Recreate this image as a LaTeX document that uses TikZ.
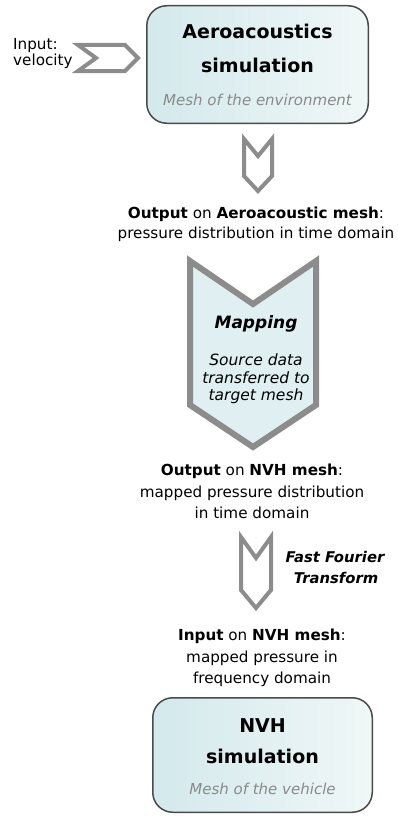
\documentclass[tikz,border=0pt]{standalone}
\usepackage{fontspec}
\setmainfont{DejaVu Sans}
\definecolor{boxline}{HTML}{4A4A4A}
\definecolor{boxL}{HTML}{D3E9EC}
\definecolor{boxR}{HTML}{F0F7F7}
\definecolor{chevgray}{HTML}{8C8C8C}
\definecolor{subgray}{HTML}{8A8A8A}
\definecolor{mapfill}{HTML}{DFEFF2}
\begin{document}
\begin{tikzpicture}[x=1pt,y=-1pt,
  box/.style={draw=boxline, line width=1.5pt, rounded corners=20pt, left color=boxL, right color=boxR, inner sep=0pt},
  chev/.style={draw=chevgray, line width=4pt, line join=miter, fill=white},
  txt/.style={anchor=base, inner sep=0pt, font=\fontsize{15.2}{18}\selectfont, text=black},
  ttl/.style={anchor=base, inner sep=0pt, font=\fontsize{19}{22}\selectfont\bfseries},
  sub/.style={anchor=base, inner sep=0pt, font=\fontsize{15}{17}\selectfont\itshape, text=subgray},
  bi/.style={anchor=base, inner sep=0pt, font=\fontsize{14.8}{17}\selectfont\bfseries\itshape},
  it/.style={anchor=base, inner sep=0pt, font=\fontsize{15.5}{18}\selectfont\itshape}]
\useasboundingbox (0,0) rectangle (397,816);

% top box
\node[box, minimum width=221.5pt, minimum height=117.5pt] (aero) at (257.5,64.5) {};
\node[ttl] (aeroT1) at (257.5,38) {Aeroacoustics};
\node[ttl] (aeroT2) at (257.5,73) {simulation};
\node[sub] (aeroT3) at (257.5,105) {Mesh of the environment};

% input
\node[txt, anchor=base west] (in1) at (13,50) {Input:};
\node[txt, anchor=base west] (in2) at (13,66) {velocity};
\draw[chev] (78,45) -- (125,45) -- (138,58) -- (125,71) -- (78,71) -- (96,58) -- cycle;

% chevron 1
\draw[chev] (244,139) -- (258,156) -- (272,139) -- (272,176) -- (258,191) -- (244,176) -- cycle;

\node[txt] (out1a) at (256,218) {\textbf{Output} on \textbf{Aeroacoustic mesh}:};
\node[txt] (out1b) at (256,238) {pressure distribution in time domain};

% mapping chevron
\draw[chev, line width=6pt, fill=mapfill] (190,261) -- (253,304) -- (316,261) -- (316,405) -- (253,447) -- (190,405) -- cycle;
\node[bi, font=\fontsize{17}{20}\selectfont\bfseries\itshape] (map1) at (256,328) {Mapping};
\node[it] (map2) at (256,365) {Source data};
\node[it] (map3) at (256,383) {transferred to};
\node[it] (map4) at (256,400) {target mesh};

\node[txt] (out2a) at (252,475) {\textbf{Output} on \textbf{NVH mesh}:};
\node[txt] (out2b) at (252,497) {mapped pressure distribution};
\node[txt] (out2c) at (252,518) {in time domain};

% chevron 3
\draw[chev] (241,537) -- (256,558) -- (271,537) -- (271,590) -- (256,608) -- (241,590) -- cycle;
\node[bi] (fft1) at (335,562) {Fast Fourier};
\node[bi] (fft2) at (336,583) {Transform};

\node[txt] (in3a) at (262,640) {\textbf{Input} on \textbf{NVH mesh}:};
\node[txt] (in3b) at (262,662) {mapped pressure in};
\node[txt] (in3c) at (262,683) {frequency domain};

% NVH box
\node[box, minimum width=219.5pt, minimum height=114.5pt] (nvh) at (262.5,755) {};
\node[ttl] (nvhT1) at (262.5,732) {NVH};
\node[ttl] (nvhT2) at (262.5,763) {simulation};
\node[sub] (nvhT3) at (262.5,794) {Mesh of the vehicle};
\end{tikzpicture}
\end{document}
